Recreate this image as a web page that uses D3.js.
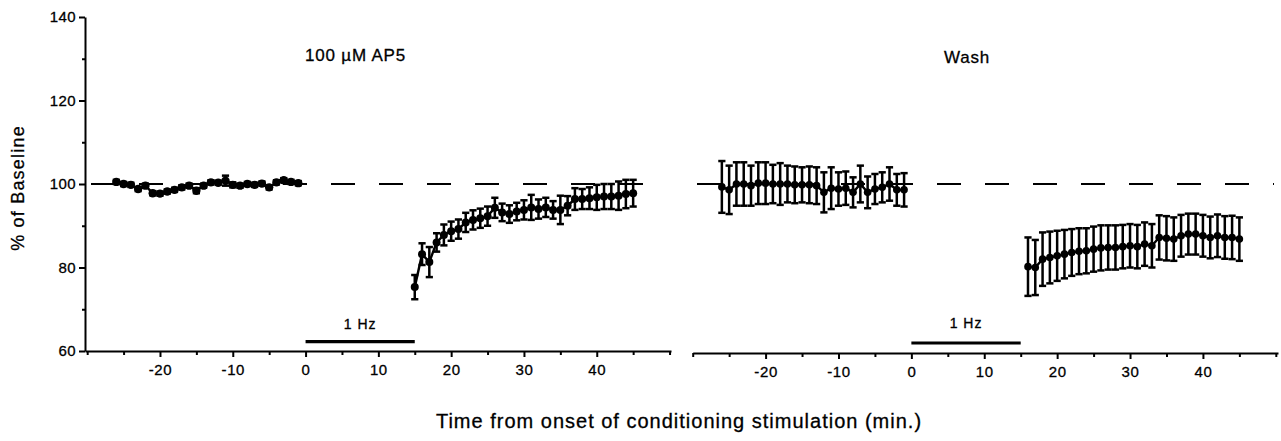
<!DOCTYPE html>
<html><head><meta charset="utf-8">
<script src="https://cdn.jsdelivr.net/npm/d3@7"></script>
<style>
html,body{margin:0;padding:0;background:#fff;}
svg{display:block;font-family:"Liberation Sans",Arial,Helvetica,sans-serif;}
</style></head>
<body><svg id="c" width="1281" height="441"></svg>
<script>
// ---- data ----
const leftBaseTime = [-26,-25,-24,-23,-22,-21,-20,-19,-18,-17,-16,-15,-14,-13,-12,-11,-10,-9,-8,-7,-6,-5,-4,-3,-2,-1];
const leftBaseMean = [100.5,100.0,99.8,98.8,99.6,97.8,97.7,98.2,98.6,99.2,99.6,98.4,99.6,100.4,100.3,100.8,99.8,99.6,100.0,99.8,100.1,99.2,100.4,100.9,100.5,100.2];
const leftBaseErr  = [0.5,0.5,0.5,0.5,0.5,0.5,0.5,0.5,0.5,0.5,0.5,0.6,0.5,0.5,0.5,1.2,0.6,0.5,0.5,0.5,0.5,0.5,0.5,0.5,0.5,0.5];

const leftPostTime = [15,16,17,18,19,20,21,22,23,24,25,26,27,28,29,30,31,32,33,34,35,36,37,38,39,40,41,42,43,44,45];
const leftPostMean = [75.3,83.2,81.3,86.0,87.8,88.7,89.2,90.8,91.4,91.8,92.3,94.3,93.2,92.8,93.4,93.8,94.4,94.0,94.4,93.8,93.8,94.8,96.4,96.4,96.6,96.8,97.0,97.0,97.2,97.6,97.8];
const leftPostErr  = [2.9,2.6,3.6,2.2,2.5,2.3,2.3,2.3,2.3,2.3,2.3,2.4,2.1,2.1,2.1,2.3,3.0,2.3,2.3,2.1,3.4,2.3,2.6,2.4,2.6,3.0,3.0,3.0,3.4,3.4,3.2];

const rightBaseTime = [-26,-25,-24,-23,-22,-21,-20,-19,-18,-17,-16,-15,-14,-13,-12,-11,-10,-9,-8,-7,-6,-5,-4,-3,-2,-1];
const rightBaseMean = [99.3,98.6,100.0,100.0,99.6,100.2,100.2,100.0,100.0,100.0,99.8,99.8,99.8,99.6,98.0,99.0,98.8,99.0,98.0,100.0,98.0,98.8,99.2,100.0,98.6,98.6];
const rightBaseErr  = [6.2,5.8,5.2,5.2,4.8,5.0,5.0,4.6,5.0,4.4,4.4,4.2,4.4,4.4,4.8,5.0,4.0,4.0,3.6,4.4,3.8,3.6,3.6,4.0,3.8,4.0];

const rightPostTime = [16,17,18,19,20,21,22,23,24,25,26,27,28,29,30,31,32,33,34,35,36,37,38,39,40,41,42,43,44,45];
const rightPostMean = [80.2,80.0,82.0,82.4,82.8,83.2,83.6,83.9,84.0,84.4,84.7,84.8,84.8,85.0,85.2,85.0,85.6,85.2,87.2,87.0,86.8,87.6,88.0,88.0,87.6,87.2,87.6,87.2,87.2,86.8];
const rightPostErr  = [7.0,6.6,6.4,6.2,6.0,5.8,5.6,5.5,5.4,5.4,5.4,5.3,5.3,5.2,5.2,5.2,5.2,5.2,5.3,5.3,5.2,5.0,4.9,4.9,5.0,5.0,5.1,5.1,5.2,5.2];

const xMajorTicks = [-20,-10,0,10,20,30,40];
const xMinorTicks = [-30,-25,-15,-5,5,15,25,35,45,50];
const yMajorTicks = [60,80,100,120,140];
const yMinorTicks = [70,90,110,130];
const panelTitles = ["100 \u00b5M AP5","Wash"];
const stimLabel = "1 Hz";
const stimStart = 0, stimEnd = 15;
const baselineRef = 100;
const xTitle = "Time from onset of conditioning stimulation (min.)";
const yTitle = "% of Baseline";

// ---- scales ----
const svg = d3.select("#c");
const y = d3.scaleLinear().domain([60,140]).range([351,17]);
const xL = d3.scaleLinear().domain([-30.3,50.2]).range([85,671]);
const xR = d3.scaleLinear().domain([-30,50.3]).range([692.7,1278]);

function styleText(sel, size, ls){
  sel.attr("font-size",size).attr("fill","#000").attr("letter-spacing",ls)
     .attr("stroke","#000").attr("stroke-width",0.3)
     .attr("font-family","'Liberation Sans',Arial,sans-serif");
}

// y axis
const gy = svg.append("g").attr("transform","translate(85,0)");
gy.call(d3.axisLeft(y).tickValues(yMajorTicks).tickSize(6).tickSizeOuter(0).tickPadding(3).tickFormat(d=>String(d)));
gy.append("g").call(d3.axisLeft(y).tickValues(yMinorTicks).tickSize(3).tickFormat(""))
  .select(".domain").remove();
gy.selectAll("path,line").attr("stroke","#000").attr("stroke-width",2);
styleText(gy.selectAll("text"), 15, 0.4);

function xAxis(x, yPos){
  const g = svg.append("g").attr("transform",`translate(0,${yPos})`);
  g.call(d3.axisBottom(x).tickValues(xMajorTicks).tickSize(6).tickSizeOuter(0).tickPadding(7).tickFormat(d=>String(d)));
  g.append("g").call(d3.axisBottom(x).tickValues(xMinorTicks).tickSize(4).tickFormat(""))
    .select(".domain").remove();
  g.selectAll("path,line").attr("stroke","#000").attr("stroke-width",2);
  styleText(g.selectAll("text"), 15, 0.6);
}
xAxis(xL, 351);
xAxis(xR, 353);

// reference dashed line
function refLine(x, x0, off){
  svg.append("line").attr("x1",x0).attr("x2",x.range()[1]-4)
    .attr("y1",y(baselineRef)).attr("y2",y(baselineRef))
    .attr("stroke","#000").attr("stroke-width",1.8)
    .attr("stroke-dasharray","24 24").attr("stroke-dashoffset",off);
}
refLine(xL, 85, 42);
refLine(xR, 697, 0);

// stimulus bars
function stim(x, yy, lblY){
  svg.append("line").attr("x1",x(stimStart)).attr("x2",x(stimEnd))
    .attr("y1",yy).attr("y2",yy).attr("stroke","#000").attr("stroke-width",3.2);
  const t = svg.append("text").attr("x",x((stimStart+stimEnd)/2)).attr("y",lblY)
    .attr("text-anchor","middle").text(stimLabel);
  styleText(t, 14, 1);
}
stim(xL, 341.7, 329);
stim(xR, 343, 328);

// series drawing
function series(x, times, means, errs, r){
  const pts = times.map((t,i)=>({t, m:means[i], e:errs[i]}));
  const g = svg.append("g");
  g.append("path").datum(pts)
    .attr("d", d3.line().x(d=>x(d.t)).y(d=>y(d.m)))
    .attr("fill","none").attr("stroke","#000").attr("stroke-width",2.4);
  const eb = g.selectAll(".eb").data(pts).enter().append("g");
  eb.append("line").attr("x1",d=>x(d.t)).attr("x2",d=>x(d.t))
    .attr("y1",d=>y(d.m+d.e)).attr("y2",d=>y(d.m-d.e))
    .attr("stroke","#000").attr("stroke-width",2.5);
  [1,-1].forEach(s=>{
    eb.append("line").attr("x1",d=>x(d.t)-3.6).attr("x2",d=>x(d.t)+3.6)
      .attr("y1",d=>y(d.m+s*d.e)).attr("y2",d=>y(d.m+s*d.e))
      .attr("stroke","#000").attr("stroke-width",2.5);
  });
  g.selectAll("circle").data(pts).enter().append("circle")
    .attr("cx",d=>x(d.t)).attr("cy",d=>y(d.m)).attr("r",r).attr("fill","#000");
}
series(xL, leftBaseTime, leftBaseMean, leftBaseErr, 4.2);
series(xL, leftPostTime, leftPostMean, leftPostErr, 4);
series(xR, rightBaseTime, rightBaseMean, rightBaseErr, 3.8);
series(xR, rightPostTime, rightPostMean, rightPostErr, 3.8);

// titles
styleText(svg.append("text").attr("x",305).attr("y",61).text(panelTitles[0]), 17, 0.8);
styleText(svg.append("text").attr("x",944).attr("y",63).text(panelTitles[1]), 17, 0.8);
styleText(svg.append("text").attr("x",679).attr("y",428).attr("text-anchor","middle").text(xTitle), 20, 1.0);
styleText(svg.append("text").attr("transform","translate(24,188) rotate(-90)").attr("text-anchor","middle").text(yTitle), 18, 1.2);
</script></body></html>
